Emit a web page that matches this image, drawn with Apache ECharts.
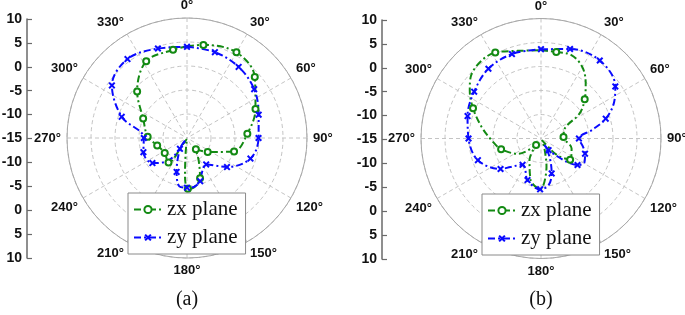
<!DOCTYPE html>
<html>
<head>
<meta charset="utf-8">
<script src="https://cdn.jsdelivr.net/npm/echarts@6/dist/echarts.min.js"></script>
<style>
  html, body { margin: 0; padding: 0; background: #fff; }
  #chart { width: 685px; height: 315px; }
</style>
</head>
<body>
<div id="chart"></div>
<script>
// gain in dB, angle in degrees (0 at top, clockwise)
const leftZxAngle = [0, 10, 30, 48, 67, 86, 106, 124, 142, 153, 162, 172, 179, 183, 185, 190, 212, 217, 236, 256, 272, 294, 313, 332, 351, 360];
const leftZxGain = [4.1, 4.7, 5.6, 4.0, 0.5, -2.4, -4.8, -9.8, -12.0, -9.6, -6.2, -4.6, -4.4, -7.0, -11.5, -14.8, -13.8, -8.6, -9.4, -8.6, -6.8, -5.0, -0.8, 3.1, 3.6, 4.1];
const leftZxMarked = [10, 30, 48, 67, 86, 106, 124, 142, 162, 179, 217, 236, 256, 272, 294, 313, 332, 351];

const leftZyAngle = [0, 18, 36, 54, 72, 90, 108, 126, 144, 157, 163, 172, 180, 189, 197, 213, 216, 219, 234, 252, 270, 288, 305, 323, 342, 360];
const leftZyGain = [4.0, 3.8, 3.3, 2.3, 0.7, -0.1, -1.1, -4.7, -8.2, -7.1, -5.6, -4.7, -4.65, -4.8, -7.6, -12.3, -14.5, -9.0, -6.1, -5.45, -6.0, -0.7, 4.1, 5.6, 4.6, 4.0];
const leftZyMarked = [0, 18, 36, 54, 72, 90, 108, 126, 144, 163, 180, 197, 213, 234, 252, 270, 288, 305, 323, 342];

const rightZxAngle = [0, 10, 20, 30, 39, 48, 57, 67, 86, 108, 126, 136, 141, 150, 161, 169, 181, 194, 208, 217, 236, 255, 268, 281, 294, 304, 312, 332, 345, 360];
const rightZxGain = [3.4, 3.3, 3.5, 2.2, -0.2, -2.75, -5.4, -9.6, -10.3, -8.3, -7.5, -10.2, -13.6, -14.6, -12.8, -9.0, -4.4, -6.1, -9.9, -13.3, -9.3, -6.4, -4.7, -2.4, 0.5, 2.9, 4.6, 5.3, 3.9, 3.4];
const rightZxMarked = [10, 48, 86, 126, 217, 255, 294, 332];

const rightZyAngle = [0, 18, 37, 55, 64, 73, 80, 90, 101, 109, 119, 126, 132, 139, 147, 151, 155, 163, 171, 181, 198, 208, 215, 227, 233, 251, 270, 287, 305, 323, 341, 360];
const rightZyGain = [3.6, 4.6, 5.35, 3.9, 1.9, -0.9, -4.0, -7.1, -6.1, -5.3, -4.65, -5.6, -7.7, -10.4, -12.1, -13.6, -10.8, -7.4, -5.1, -4.4, -5.9, -7.9, -8.3, -6.3, -4.45, -1.1, 0.1, 1.0, 2.0, 3.2, 3.6, 3.6];
const rightZyMarked = [0, 18, 37, 55, 73, 90, 109, 126, 147, 163, 181, 198, 215, 233, 251, 270, 287, 305, 323, 341];

const sideTicks = ['10', '5', '0', '-5', '-10', '-15', '-10', '-5', '0', '5', '10'];
const angleTicks = ['0°', '30°', '60°', '90°', '120°', '150°', '180°', '210°', '240°', '270°', '300°', '330°'];
const captions = ['(a)', '(b)'];

const GREEN = '#138a13';
const BLUE = '#0a0aff';
const X_MARK = 'path://M2,0L5,3L8,0L10,2L7,5L10,8L8,10L5,7L2,10L0,8L3,5L0,2Z';
const centers = [[187, 138], [541, 138.5]];

function toData(angle, gain, marked) {
  return angle.map((a, i) => {
    const item = { value: [gain[i], a] };
    if (!marked.includes(a)) item.symbol = 'none';
    return item;
  });
}

function planeSeries(name, color, symbol, size, polarIndex, data) {
  return {
    name: name,
    type: 'line',
    coordinateSystem: 'polar',
    polarIndex: polarIndex,
    smooth: 0.35,
    symbol: symbol,
    symbolSize: size,
    showAllSymbol: true,
    lineStyle: { color: color, width: 2, type: [7, 3, 2, 3] },
    itemStyle: symbol === 'emptyCircle'
      ? { color: color, borderColor: color, borderWidth: 2 }
      : { color: color, borderWidth: 0 },
    data: data,
  };
}

const gridDash = { color: '#c4c4c4', width: 1, type: [4, 3] };

const chart = echarts.init(document.getElementById('chart'), null, { renderer: 'canvas' });

const option = {
  animation: false,
  backgroundColor: '#fff',
  polar: centers.map((c) => ({ center: c, radius: 120 })),
  angleAxis: centers.map((c, i) => ({
    polarIndex: i,
    type: 'value',
    min: 0,
    max: 360,
    interval: 30,
    startAngle: 90,
    clockwise: true,
    axisLine: { lineStyle: { color: '#a8a8a8', width: 1 } },
    axisTick: { show: false },
    splitLine: { show: true, lineStyle: gridDash },
    axisLabel: {
      margin: 6,
      color: '#111',
      fontFamily: 'Liberation Sans',
      fontWeight: 'bold',
      fontSize: 13,
      formatter: (v) => (v >= 360 ? '' : angleTicks[v / 30]),
    },
  })),
  radiusAxis: centers.map((c, i) => ({
    polarIndex: i,
    type: 'value',
    min: -15,
    max: 10,
    interval: 5,
    axisLine: { show: false },
    axisTick: { show: false },
    axisLabel: { show: false },
    splitLine: { show: true, lineStyle: gridDash },
  })),
  grid: [
    { left: 26, top: 19, width: 1, height: 239 },
    { left: 382, top: 20, width: 1, height: 239 },
  ],
  xAxis: [0, 1].map((i) => ({ gridIndex: i, type: 'value', show: false })),
  yAxis: [0, 1].map((i) => ({
    gridIndex: i,
    type: 'category',
    data: sideTicks,
    boundaryGap: false,
    axisLine: { lineStyle: { color: '#6a6a6a', width: 1.5 } },
    axisTick: { inside: true, length: 5, lineStyle: { color: '#6a6a6a', width: 1.2 } },
    axisLabel: {
      margin: 5,
      interval: 0,
      color: '#111',
      fontFamily: 'Liberation Sans',
      fontWeight: 'bold',
      fontSize: 14,
    },
    splitLine: { show: false },
  })),
  legend: [[128, 193], [482, 194]].map((p) => ({
    left: p[0],
    top: p[1],
    orient: 'vertical',
    data: ['zx plane', 'zy plane'],
    itemWidth: 28,
    itemHeight: 9,
    itemGap: 7,
    padding: [6, 8, 6, 5],
    borderColor: '#8a8a8a',
    borderWidth: 1,
    borderRadius: 0,
    backgroundColor: '#fff',
    selectedMode: false,
    textStyle: { fontFamily: 'Liberation Serif', fontSize: 21, color: '#111' },
  })),
  graphic: captions.map((t, i) => ({
    type: 'text',
    x: centers[i][0],
    y: 300,
    style: {
      text: t,
      fill: '#111',
      font: '20px "Liberation Serif"',
      textAlign: 'center',
      textVerticalAlign: 'middle',
    },
  })),
  series: [
    planeSeries('zx plane', GREEN, 'emptyCircle', 6, 0, toData(leftZxAngle, leftZxGain, leftZxMarked)),
    planeSeries('zy plane', BLUE, X_MARK, 7, 0, toData(leftZyAngle, leftZyGain, leftZyMarked)),
    planeSeries('zx plane', GREEN, 'emptyCircle', 6, 1, toData(rightZxAngle, rightZxGain, rightZxMarked)),
    planeSeries('zy plane', BLUE, X_MARK, 7, 1, toData(rightZyAngle, rightZyGain, rightZyMarked)),
  ],
};

chart.setOption(option);
</script>
</body>
</html>
